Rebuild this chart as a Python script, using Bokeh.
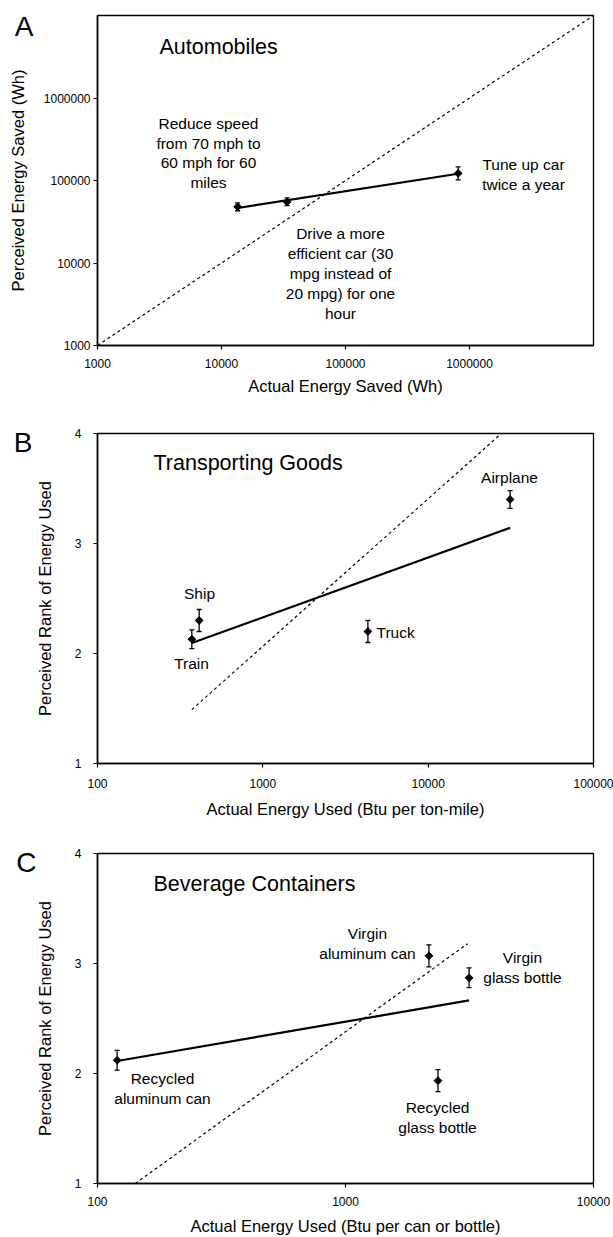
import numpy as np
from bokeh.plotting import figure
from bokeh.models import (Range1d, FixedTicker, NumeralTickFormatter, Label,
                          Whisker, TeeHead, ColumnDataSource, LinearAxis,
                          CustomJSTickFormatter)
from bokeh.layouts import column
from bokeh.embed import file_html
from bokeh.resources import INLINE

# ---------------- Data ----------------
# Panel A: Automobiles (Wh)
a_names = ["Reduce speed 70->60 mph", "Drive a more efficient car", "Tune up car twice a year"]
a_actual = [13500, 33800, 810000]
a_perceived = [48000, 55000, 122000]
a_err_lo = [43000, 49500, 101500]
a_err_hi = [53500, 61500, 146000]
a_diag_x = [1000, 10000000]
a_diag_y = [1000, 10000000]
a_ticks = [1000, 10000, 100000, 1000000]

# Panel B: Transporting Goods (Btu per ton-mile)
b_names = ["Train", "Ship", "Truck", "Airplane"]
b_actual = [372, 412, 4320, 31300]
b_rank = [2.13, 2.30, 2.20, 3.40]
b_err_lo = [2.045, 2.20, 2.10, 3.32]
b_err_hi = [2.215, 2.40, 2.30, 3.48]
b_diag_x = [372, 27700]
b_diag_y = [1.49, 4.0]
b_xticks = [100, 1000, 10000, 100000]

# Panel C: Beverage Containers (Btu per can or bottle)
c_names = ["Recycled aluminum can", "Virgin aluminum can", "Virgin glass bottle", "Recycled glass bottle"]
c_actual = [120, 2170, 3150, 2360]
c_rank = [2.12, 3.07, 2.87, 1.935]
c_err_lo = [2.03, 2.97, 2.78, 1.835]
c_err_hi = [2.21, 3.17, 2.96, 2.035]
c_diag_x = [142, 3110]
c_diag_y = [1.0, 3.18]
c_xticks = [100, 1000, 10000]

rank_ticks = [1, 2, 3, 4]

FONT = "Liberation Sans"
ANN = "15.5px"
TITLE = "21.5px"
LETTER = "28px"

W = 613
FL, FR = 97, 593  # frame left/right page x


def make_fig(height, top, bottom, x_range, y_range, y_type, xlabel, ylabel,
             xticks, yticks, tick_st_x, lab_st_x, tick_st_y, lab_st_y):
    p = figure(width=W, height=height, x_axis_type="log", y_axis_type=y_type,
               x_range=x_range, y_range=y_range, output_backend="svg",
               toolbar_location=None, min_border_left=FL,
               min_border_right=W - FR, min_border_top=top,
               min_border_bottom=bottom)
    p.xgrid.visible = False
    p.ygrid.visible = False
    p.outline_line_color = "black"
    p.outline_line_width = 1.3
    p.outline_line_alpha = 1
    p.background_fill_color = "white"
    p.border_fill_color = "white"
    p.xaxis.ticker = FixedTicker(ticks=xticks)
    p.yaxis.ticker = FixedTicker(ticks=yticks)
    p.xaxis.formatter = NumeralTickFormatter(format="0")
    p.yaxis.formatter = NumeralTickFormatter(format="0")
    p.xaxis.axis_label = xlabel
    p.yaxis.axis_label = ylabel
    for ax in (p.xaxis[0], p.yaxis[0]):
        ax.axis_line_color = "black"
        ax.axis_line_width = 1.6
        ax.major_tick_line_color = "black"
        ax.major_tick_line_width = 1.2
        ax.major_tick_out = 4
        ax.major_tick_in = 0
        ax.minor_tick_line_color = None
        ax.major_label_text_font = FONT
        ax.major_label_text_font_size = "12px"
        ax.major_label_text_color = "black"
        ax.axis_label_text_font = FONT
        ax.axis_label_text_font_size = "16.5px"
        ax.axis_label_text_font_style = "normal"
        ax.axis_label_text_color = "black"
    p.xaxis.major_label_standoff = tick_st_x
    p.xaxis.axis_label_standoff = lab_st_x
    p.yaxis.major_label_standoff = tick_st_y
    p.yaxis.axis_label_standoff = lab_st_y
    return p


def add_points(p, xs, ys, lo, hi):
    src = ColumnDataSource(dict(x=xs, y=ys, lo=lo, hi=hi))
    p.add_layout(Whisker(source=src, base="x", lower="lo", upper="hi",
                         dimension="height", line_color="black", line_width=1.3,
                         upper_head=TeeHead(size=5, line_color="black", line_width=1.3),
                         lower_head=TeeHead(size=5, line_color="black", line_width=1.3)))
    p.scatter("x", "y", source=src, marker="square", angle=np.pi / 4, size=5.5,
              color="black")


def add_text(p, conv, px, py, text, align="center", size=ANN):
    x, y = conv(px, py)
    p.add_layout(Label(x=x, y=y, text=text, text_align=align,
                       text_baseline="middle", text_font=FONT,
                       text_font_size=size, text_color="black"))


def add_letter(p, conv, py, text, standoff):
    """Panel letter drawn as the single tick label of an outer, line-less axis."""
    _, yval = conv(FL, py)
    ax = LinearAxis(ticker=FixedTicker(ticks=[yval]),
                    formatter=CustomJSTickFormatter(code="return '%s'" % text),
                    axis_line_color=None, major_tick_line_color=None,
                    minor_tick_line_color=None, major_tick_out=0, major_tick_in=0,
                    major_label_standoff=standoff, major_label_text_font=FONT,
                    major_label_text_font_size=LETTER,
                    major_label_text_color="black")
    p.add_layout(ax, "left")


# ---------------- Panel A ----------------
A_TOP, A_BOT = 15, 345
pA = make_fig(420, 15, 75, Range1d(1000, 1e7), Range1d(1000, 1e7), "log",
              "Actual Energy Saved (Wh)", "Perceived Energy Saved (Wh)",
              a_ticks, a_ticks, 9, 6, 3, 14)


def convA(px, py):
    return (10 ** (3 + 4 * (px - FL) / (FR - FL)),
            10 ** (3 + 4 * (A_BOT - py) / (A_BOT - A_TOP)))


pA.line(a_diag_x, a_diag_y, line_color="black", line_width=1.2, line_dash="3 3")
lx = np.log10(a_actual)
ly = np.log10(a_perceived)
ka, kb = np.polyfit(lx, ly, 1)
fx = np.array([min(a_actual), max(a_actual)])
pA.line(fx, 10 ** (ka * np.log10(fx) + kb), line_color="black", line_width=2.2)
add_points(pA, a_actual, a_perceived, a_err_lo, a_err_hi)

add_text(pA, convA, 159, 46, "Automobiles", align="left", size=TITLE)
for i, t in enumerate(["Reduce speed", "from 70 mph to", "60 mph for 60", "miles"]):
    add_text(pA, convA, 208, 123 + 19.7 * i, t)
for i, t in enumerate(["Drive a more", "efficient car (30", "mpg instead of",
                       "20 mpg) for one", "hour"]):
    add_text(pA, convA, 340, 233 + 20 * i, t)
for i, t in enumerate(["Tune up car", "twice a year"]):
    add_text(pA, convA, 523, 164 + 19.5 * i, t)
add_letter(pA, convA, 26, "A", -28)

# ---------------- Panel B ----------------
B_TOP, B_BOT = 433, 763
pB = make_fig(400, 13, 57, Range1d(100, 100000), Range1d(1, 4), "linear",
              "Actual Energy Used (Btu per ton-mile)", "Perceived Rank of Energy Used",
              b_xticks, rank_ticks, 11, 9, 12, 18)


def convB(px, py):
    return (10 ** (2 + 3 * (px - FL) / (FR - FL)),
            1 + 3 * (B_BOT - py) / (B_BOT - B_TOP))


pB.line(b_diag_x, b_diag_y, line_color="black", line_width=1.2, line_dash="3 3")
kb1, kb0 = np.polyfit(np.log10(b_actual), b_rank, 1)
fx = np.array([min(b_actual), max(b_actual)])
pB.line(fx, kb1 * np.log10(fx) + kb0, line_color="black", line_width=2.2)
add_points(pB, b_actual, b_rank, b_err_lo, b_err_hi)

add_text(pB, convB, 153, 462, "Transporting Goods", align="left", size=TITLE)
add_text(pB, convB, 509, 477, "Airplane")
add_text(pB, convB, 199, 593, "Ship")
add_text(pB, convB, 191, 663, "Train")
add_text(pB, convB, 376, 632, "Truck", align="left")
add_letter(pB, convB, 442, "B", 0)

# ---------------- Panel C ----------------
C_TOP, C_BOT = 853, 1183
pC = make_fig(417, 33, 54, Range1d(100, 10000), Range1d(1, 4), "linear",
              "Actual Energy Used (Btu per can or bottle)", "Perceived Rank of Energy Used",
              c_xticks, rank_ticks, 9, 8, 12, 18)


def convC(px, py):
    return (10 ** (2 + 2 * (px - FL) / (FR - FL)),
            1 + 3 * (C_BOT - py) / (C_BOT - C_TOP))


pC.line(c_diag_x, c_diag_y, line_color="black", line_width=1.2, line_dash="3 3")
kc1, kc0 = np.polyfit(np.log10(c_actual), c_rank, 1)
fx = np.array([min(c_actual), max(c_actual)])
pC.line(fx, kc1 * np.log10(fx) + kc0, line_color="black", line_width=2.2)
add_points(pC, c_actual, c_rank, c_err_lo, c_err_hi)

add_text(pC, convC, 153, 883, "Beverage Containers", align="left", size=TITLE)
add_text(pC, convC, 367, 933, "Virgin")
add_text(pC, convC, 367, 953, "aluminum can")
add_text(pC, convC, 522, 957, "Virgin")
add_text(pC, convC, 522, 977, "glass bottle")
add_text(pC, convC, 162, 1078, "Recycled")
add_text(pC, convC, 162, 1098, "aluminum can")
add_text(pC, convC, 437, 1107, "Recycled")
add_text(pC, convC, 437, 1127, "glass bottle")
add_letter(pC, convC, 862, "C", -4)

layout = column(pA, pB, pC, spacing=0)
open("out.html", "w").write(file_html(layout, INLINE))
